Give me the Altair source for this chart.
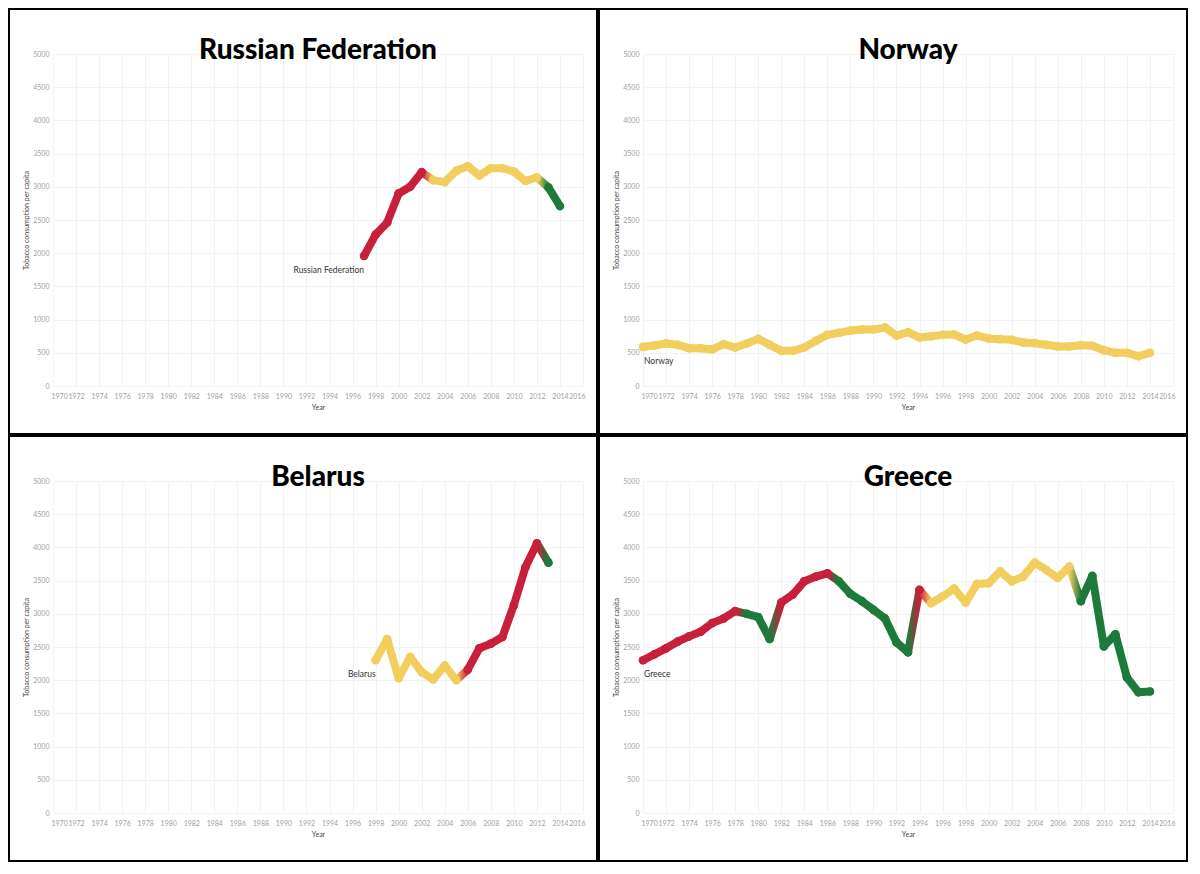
import altair as alt
import pandas as pd

RED = "#C8203B"
YELLOW = "#F2CE5E"
GREEN = "#1D7A3B"

# ---- data ----
RUS_YEARS = list(range(1997, 2015))
RUS_VALUES = [1960, 2280, 2460, 2900, 3000, 3220, 3100, 3070, 3240, 3310,
              3170, 3280, 3280, 3230, 3090, 3140, 2990, 2710]
RUS_TREND = "UUUUUUFFFFFFFFFFDD"

NOR_YEARS = list(range(1970, 2015))
NOR_VALUES = [590, 610, 640, 620, 570, 570, 550, 630, 580, 640,
              710, 620, 530, 530, 580, 680, 770, 800, 835, 850,
              850, 880, 760, 810, 730, 750, 770, 775, 700, 760,
              715, 705, 695, 655, 645, 620, 595, 595, 615, 605,
              540, 500, 500, 450, 500]
NOR_TREND = "F" * 45

BLR_YEARS = list(range(1998, 2014))
BLR_VALUES = [2300, 2620, 2030, 2350, 2120, 2010, 2220, 2000, 2160, 2480,
              2550, 2650, 3130, 3700, 4060, 3770]
BLR_TREND = "FFFFFFFFUUUUUUUD"

GRC_YEARS = list(range(1970, 2015))
GRC_VALUES = [2300, 2390, 2480, 2580, 2660, 2730, 2860, 2930, 3040, 3000,
              2950, 2620, 3170, 3290, 3490, 3560, 3610, 3490, 3300, 3190,
              3060, 2930, 2570, 2420, 3360, 3160, 3260, 3380, 3170, 3450,
              3460, 3640, 3490, 3560, 3770, 3660, 3540, 3710, 3190, 3570,
              2510, 2690, 2040, 1820, 1830]
GRC_TREND = "UUUUUUUUUDDDUUUUUDDDDDDDUFFFFFFFFFFFFFDDDDDDD"

TREND_NAME = {"U": "up", "F": "flat", "D": "down"}
TREND_COLOR = {"up": RED, "flat": YELLOW, "down": GREEN}

# ---- layout ----
PANEL_W, PANEL_H = 588, 425
L, R, T, B = 44, 14, 45, 48
W = PANEL_W - L - R
H = PANEL_H - T - B
LINE_W = 8


def panel(name, years, values, trend_codes, label_align, label_dx):
    trends = [TREND_NAME[c] for c in trend_codes]
    pts = pd.DataFrame({"Year": years, "Value": values, "Trend": trends,
                        "Country": name})

    seg_rows = []
    transitions = []
    for i in range(len(years) - 1):
        t0, t1 = trends[i], trends[i + 1]
        if t0 == t1:
            for j in (i, i + 1):
                seg_rows.append({"seg": i, "Year": years[j],
                                 "Value": values[j], "Trend": t0})
        else:
            transitions.append((TREND_COLOR[t0], TREND_COLOR[t1],
                                pd.DataFrame({
                                    "Year": [years[i], years[i + 1]],
                                    "Value": [values[i], values[i + 1]],
                                })))
    segs = pd.DataFrame(seg_rows)

    x = alt.X("Year:Q",
              scale=alt.Scale(domain=[1970, 2016], nice=False, zero=False),
              axis=alt.Axis(values=list(range(1970, 2017, 2)), format="d",
                            labelFlush=True, labelFlushOffset=2,
                            labelOverlap=False,
                            title="Year", labelPadding=6, titlePadding=4,
                            grid=True))
    y = alt.Y("Value:Q",
              scale=alt.Scale(domain=[0, 5000], nice=False),
              axis=alt.Axis(values=list(range(0, 5001, 500)), format="d",
                            title="Tobacco consumption per capita",
                            labelPadding=4, titlePadding=3, grid=True))
    color = alt.Color("Trend:N",
                      scale=alt.Scale(domain=list(TREND_COLOR.keys()),
                                      range=list(TREND_COLOR.values())),
                      legend=None)

    layers = []
    if len(segs):
        layers.append(
            alt.Chart(segs).mark_line(strokeWidth=LINE_W, strokeCap="round",
                                      strokeJoin="round")
            .encode(x=x, y=y, color=color, detail="seg:N")
        )
    for c0, c1, tdf in transitions:
        layers.append(
            alt.Chart(tdf).mark_line(
                strokeWidth=LINE_W, strokeCap="round",
                stroke=alt.Gradient(
                    gradient="linear",
                    stops=[alt.GradientStop(color=c0, offset=0),
                           alt.GradientStop(color=c1, offset=1)],
                    x1=0, x2=1, y1=0, y2=0),
            ).encode(x=x, y=y)
        )
    layers.append(
        alt.Chart(pts).mark_circle(size=75, opacity=1)
        .encode(x=x, y=y, color=color)
    )
    layers.append(
        alt.Chart(pts.head(1)).mark_text(
            align=label_align, baseline="middle", dx=label_dx, dy=14,
            fontSize=8.5, color="#333", font="Lato")
        .encode(x=x, y=y, text="Country:N")
    )
    title_df = pd.DataFrame({"t": [name]})
    layers.append(
        alt.Chart(title_df).mark_text(
            font="Lato", fontSize=28, fontWeight=900, color="black",
            align="center", baseline="middle")
        .encode(text="t:N", x=alt.value(W / 2), y=alt.value(-3))
    )
    layers.append(
        alt.Chart(title_df).mark_rect(fillOpacity=0, stroke="black",
                                      strokeWidth=2)
        .encode(x=alt.value(-L), x2=alt.value(W + R),
                y=alt.value(-T), y2=alt.value(H + B))
    )
    return alt.layer(*layers).properties(width=W, height=H)


r = panel("Russian Federation", RUS_YEARS, RUS_VALUES, RUS_TREND, "right", 0)
n = panel("Norway", NOR_YEARS, NOR_VALUES, NOR_TREND, "left", 1)
b = panel("Belarus", BLR_YEARS, BLR_VALUES, BLR_TREND, "right", 0)
g = panel("Greece", GRC_YEARS, GRC_VALUES, GRC_TREND, "left", 1)

chart = alt.vconcat(
    alt.hconcat(r, n, spacing=0),
    alt.hconcat(b, g, spacing=0),
    spacing=0,
).properties(padding=0, background="white").configure_view(
    strokeWidth=0
).configure_axis(
    gridColor="#f2f2f2", domain=False, ticks=False,
    labelColor="#a0a0a0", labelFontSize=7, labelFont="Lato",
    titleFontSize=7, titleColor="#444", titleFontWeight="normal",
    titleFont="Lato",
)

chart.save("out.html", embed_options={"renderer": "svg", "actions": False})
